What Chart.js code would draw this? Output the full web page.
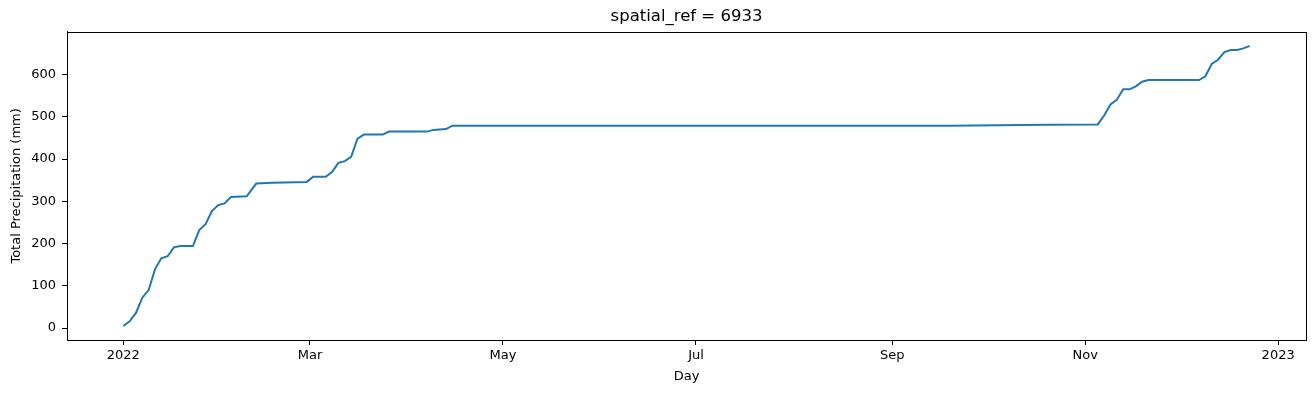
<!DOCTYPE html>
<html>
<head>
<meta charset="utf-8">
<script src="https://cdn.jsdelivr.net/npm/chart.js@4"></script>
<style>
  body { margin: 0; background: #fff; }
  #wrap { width: 1315px; height: 393px; }
</style>
</head>
<body>
<div id="wrap"><canvas id="precipChart" width="1315" height="393"></canvas></div>
<script>
// ========== DATA ==========
// day of year 2022 (0 = Jan 1) and cumulative precipitation (mm)
const days = [0, 2, 4, 6, 8, 10, 12, 14, 16, 18, 22, 24, 26, 28, 30, 32, 34, 39, 42, 47, 58, 60, 64, 66, 68, 70, 72, 74, 76, 82, 84, 96, 98, 102, 104, 261, 292, 308, 310, 312, 314, 316, 318, 320, 322, 324, 340, 342, 344, 346, 348, 350, 352, 354, 356];
const precip = [5, 16, 36, 72, 90, 139, 165, 170, 191, 194, 194, 232, 246, 277, 291, 295, 310, 312, 342, 344, 346, 358, 358, 370, 391, 395, 405, 448, 458, 458, 465, 465, 469, 471, 479, 479, 481, 482, 503, 529, 540, 565, 565, 572, 583, 587, 587, 596, 625, 635, 653, 658, 658, 662, 668];

const xTickDays = [0, 59, 120, 181, 243, 304, 365];
const xTickLabels = ['2022', 'Mar', 'May', 'Jul', 'Sep', 'Nov', '2023'];
const yTicks = [0, 100, 200, 300, 400, 500, 600];

// ========== HELPERS ==========
const FONT = 'DejaVu Sans';
const margin = (lo, hi) => (hi - lo) * 0.05;
const xMin = days[0] - margin(days[0], days[days.length - 1]);
const xMax = days[days.length - 1] + margin(days[0], days[days.length - 1]);
const yLo = Math.min(...precip), yHi = Math.max(...precip);
const yMin = yLo - margin(yLo, yHi);
const yMax = yHi + margin(yLo, yHi);

// full box around the plot like matplotlib spines
const frame = {
    id: 'frame',
    afterDraw(chart) {
        const a = chart.chartArea;
        const ctx = chart.ctx;
        ctx.save();
        ctx.strokeStyle = '#000';
        ctx.lineWidth = 1;
        ctx.strokeRect(Math.round(a.left) + 0.5, Math.round(a.top) + 0.5,
                       Math.round(a.right - a.left), Math.round(a.bottom - a.top));
        ctx.restore();
    }
};

// ========== CHART ==========
const ctx = document.getElementById('precipChart').getContext('2d');
new Chart(ctx, {
    type: 'line',
    data: {
        datasets: [{
            data: days.map((d, i) => ({ x: d, y: precip[i] })),
            borderColor: '#1f77b4',
            borderWidth: 2,
            pointRadius: 0,
            tension: 0,
            fill: false
        }]
    },
    options: {
        responsive: false,
        animation: false,
        layout: { padding: { left: 0, right: 9, top: 0, bottom: 0 } },
        plugins: {
            legend: { display: false },
            tooltip: { enabled: false },
            title: {
                display: true,
                fullSize: false,
                text: 'spatial_ref = 6933',
                color: '#000',
                font: { family: FONT, size: 16.5, weight: 'normal' },
                padding: { top: 7, bottom: 5 }
            }
        },
        scales: {
            x: {
                type: 'linear',
                min: xMin,
                max: xMax,
                afterBuildTicks: s => { s.ticks = xTickDays.map(v => ({ value: v })); },
                afterFit: s => { s.height = 53; },
                ticks: {
                    color: '#000',
                    font: { family: FONT, size: 13 },
                    padding: 3,
                    maxRotation: 0,
                    autoSkip: false,
                    callback: (v) => xTickLabels[xTickDays.indexOf(v)]
                },
                grid: { display: true, drawOnChartArea: false, drawTicks: true, tickLength: 5, color: '#000' },
                border: { display: true, color: '#000' },
                title: {
                    display: true,
                    text: 'Day',
                    color: '#000',
                    font: { family: FONT, size: 13 },
                    padding: { top: 0, bottom: 9 }
                }
            },
            y: {
                type: 'linear',
                min: yMin,
                max: yMax,
                afterBuildTicks: s => { s.ticks = yTicks.map(v => ({ value: v })); },
                afterFit: s => { s.width = 67; },
                ticks: {
                    color: '#000',
                    font: { family: FONT, size: 13 },
                    padding: 6
                },
                grid: { display: true, drawOnChartArea: false, drawTicks: true, tickLength: 5, color: '#000' },
                border: { display: true, color: '#000' },
                title: {
                    display: true,
                    text: 'Total Precipitation (mm)',
                    color: '#000',
                    font: { family: FONT, size: 13 },
                    padding: { top: 9, bottom: 0 }
                }
            }
        }
    },
    plugins: [frame]
});
</script>
</body>
</html>
